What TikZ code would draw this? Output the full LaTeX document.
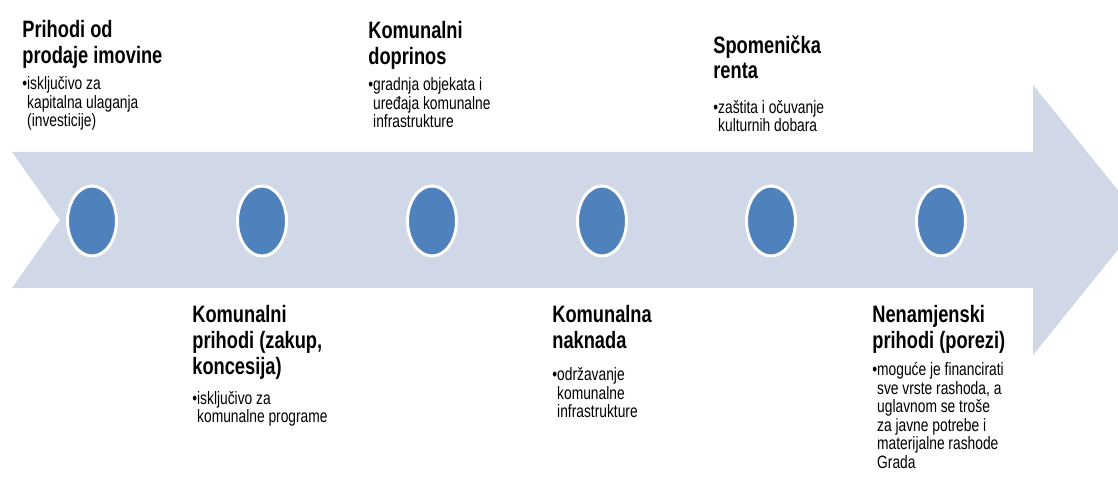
\documentclass[tikz,border=0pt]{standalone}
\usepackage{fontspec}
\setmainfont[FakeStretch=0.77]{Liberation Sans}
\usetikzlibrary{positioning,shapes.geometric}

\definecolor{traka}{RGB}{208,216,232}
\definecolor{krug}{RGB}{79,129,189}

% bullet with hanging indent
\newcommand{\stavka}[1]{\textbullet\begin{tabular}[t]{@{}l@{}}#1\end{tabular}}

\tikzset{
  naslov/.style={anchor=north west, inner sep=0pt, align=left,
    font=\fontsize{13.5}{14.7}\selectfont\bfseries},
  opis/.style={anchor=north west, inner sep=0pt, align=left,
    font=\fontsize{10.2}{10.4}\selectfont},
  tocka/.style={ellipse, fill=krug, draw=white, line width=1.7pt,
    minimum width=0.98cm, minimum height=1.4cm, inner sep=0pt}
}

\begin{document}
\begin{tikzpicture}[x=0.02cm, y=-0.02cm]
    \useasboundingbox (0,0) rectangle (1118,482);
    \clip (0,0) rectangle (1118,482);

    % the band with its arrow head (tip runs past the edge)
    \fill[traka] (12,152) -- (1033,152) -- (1033,85) -- (1142,220)
        -- (1033,355) -- (1033,288) -- (12,288) -- (60,220) -- cycle;

    \foreach \i/\x in {1/92, 2/262, 3/432, 4/602, 5/771, 6/941}
        \node[tocka] (k\i) at (\x,221) {};

    % above the band
    \node[naslov] (n1) at (22,20) {Prihodi od\\prodaje imovine};
    \node[below=4.5pt of n1.south west, opis] (o1)
        {\stavka{isključivo za\\kapitalna ulaganja\\(investicije)}};

    \node[naslov] (n2) at (368,21) {Komunalni\\doprinos};
    \node[below=4.5pt of n2.south west, opis] (o2)
        {\stavka{gradnja objekata i\\uređaja komunalne\\infrastrukture}};

    \node[naslov] (n3) at (713,35) {Spomenička\\renta};
    \node[below=11.5pt of n3.south west, opis] (o3)
        {\stavka{zaštita i očuvanje\\kulturnih dobara}};

    % below the band
    \node[naslov] (n4) at (192,305) {Komunalni\\prihodi (zakup,\\koncesija)};
    \node[below=6.5pt of n4.south west, opis] (o4)
        {\stavka{isključivo za\\komunalne programe}};

    \node[naslov] (n5) at (552,305) {Komunalna\\naknada};
    \node[below=10.5pt of n5.south west, opis] (o5)
        {\stavka{održavanje\\komunalne\\infrastrukture}};

    \node[naslov] (n6) at (872,305) {Nenamjenski\\prihodi (porezi)};
    \node[below=5pt of n6.south west, opis] (o6)
        {\stavka{moguće je financirati\\sve vrste rashoda, a\\uglavnom se troše\\za javne potrebe i\\materijalne rashode\\Grada}};
\end{tikzpicture}
\end{document}
